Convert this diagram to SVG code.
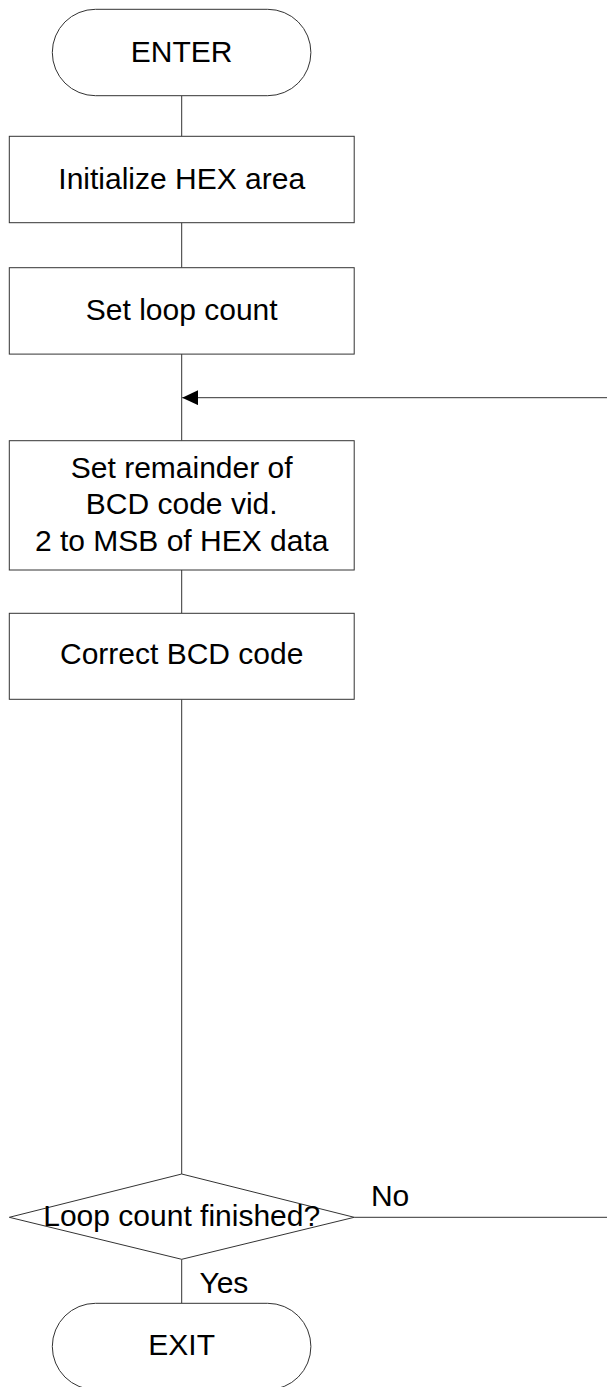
<svg xmlns="http://www.w3.org/2000/svg" width="607" height="1387" viewBox="0 0 607 1387">
<style>
.shape{fill:#fff;stroke:#333;stroke-width:1}
.conn{fill:none;stroke:#333;stroke-width:1}
.t{font-family:"Liberation Sans",Arial,sans-serif;font-size:30px;fill:#000;text-anchor:middle}
.l{font-family:"Liberation Sans",Arial,sans-serif;font-size:30px;fill:#000}
</style>
<defs>
<marker id="arr" markerUnits="userSpaceOnUse" markerWidth="17" markerHeight="16" refX="16" refY="7.5" orient="auto">
<polygon points="0,0 16,7.5 0,15" fill="#000"/>
</marker>
</defs>
<rect width="607" height="1387" fill="#fff"/>
<g id="connectors">
<line class="conn" x1="181.7" y1="95.7" x2="181.7" y2="136.3"/>
<line class="conn" x1="181.7" y1="222.7" x2="181.7" y2="267.7"/>
<line class="conn" x1="181.7" y1="354" x2="181.7" y2="440.7"/>
<line class="conn" x1="181.7" y1="570" x2="181.7" y2="613.3"/>
<line class="conn" x1="181.7" y1="699.3" x2="181.7" y2="1174"/>
<line class="conn" x1="181.7" y1="1259.3" x2="181.7" y2="1303.3"/>
<path class="conn" d="M354.2 1217.3 H608.5 V397.7 H182.2" marker-end="url(#arr)"/>
<text class="l" x="370.9" y="1205.7">No</text>
<text class="l" x="199.4" y="1292.7">Yes</text>
</g>
<g id="enter">
<rect class="shape" x="52.3" y="9.3" width="258.6" height="86.4" rx="43.2" ry="43.2"/>
<text class="t" x="181.7" y="62.3">ENTER</text>
</g>
<g id="init">
<rect class="shape" x="9.3" y="136.3" width="344.9" height="86.4"/>
<text class="t" x="181.7" y="189">Initialize HEX area</text>
</g>
<g id="setloop">
<rect class="shape" x="9.3" y="267.7" width="344.9" height="86.4"/>
<text class="t" x="181.7" y="320.4">Set loop count</text>
</g>
<g id="setrem">
<rect class="shape" x="9.3" y="440.7" width="344.9" height="129.3"/>
<text class="t" x="181.7" y="477.7">Set remainder of</text>
<text class="t" x="181.7" y="514.3">BCD code vid.</text>
<text class="t" x="181.7" y="550.7">2 to MSB of HEX data</text>
</g>
<g id="correct">
<rect class="shape" x="9.3" y="613.3" width="344.9" height="86"/>
<text class="t" x="181.7" y="664">Correct BCD code</text>
</g>
<g id="decision">
<polygon class="shape" points="181.7,1174 354.2,1217.3 181.7,1259.3 9.3,1217.3"/>
<text class="t" x="181.7" y="1226">Loop count finished?</text>
</g>
<g id="exit">
<rect class="shape" x="52.3" y="1303.3" width="258.6" height="86.4" rx="43.2" ry="43.2"/>
<text class="t" x="181.7" y="1355">EXIT</text>
</g>
</svg>
